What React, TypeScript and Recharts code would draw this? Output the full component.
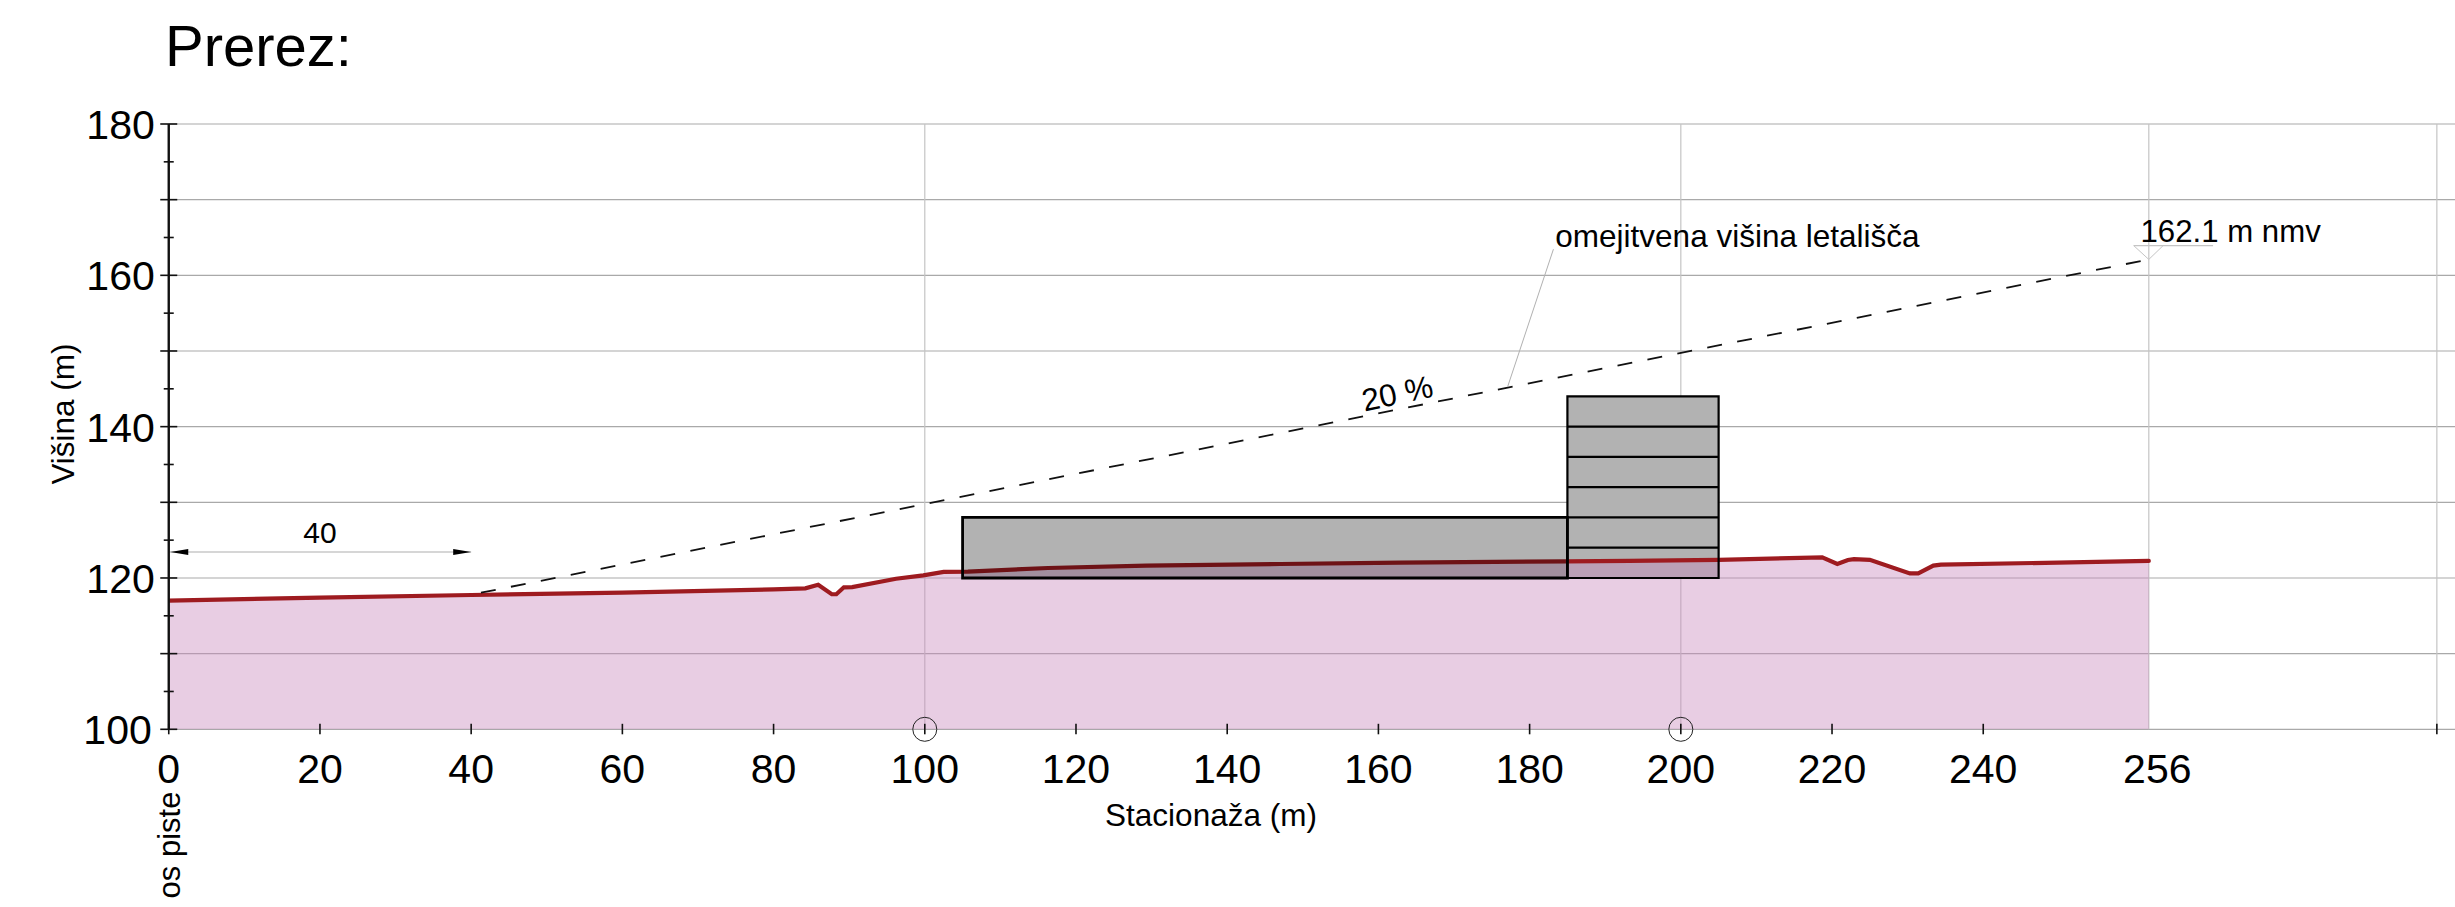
import { Area, CartesianGrid, ComposedChart, Line, ReferenceArea, ReferenceDot, ReferenceLine, XAxis, YAxis } from "recharts";

// terrain profile, station (m) on the drawing's scale -> height (m)
const terrainStations = [0, 20, 40, 60, 80, 84.2, 85.9, 87.7, 88.3, 89.3, 90.4, 96.2, 99.8, 102.5, 105.7, 116.3, 129.3, 147, 162.9, 184.9, 193.2, 205, 218.7, 220.7, 222.1, 222.9, 225, 230.3, 231.4, 233.4, 234.4, 261.9];
const terrainHeights = [117.0, 117.4, 117.75, 118.06, 118.5, 118.63, 119.1, 117.85, 117.85, 118.77, 118.8, 119.9, 120.35, 120.8, 120.84, 121.32, 121.63, 121.85, 122.02, 122.2, 122.25, 122.4, 122.73, 121.85, 122.38, 122.5, 122.4, 120.6, 120.6, 121.63, 121.76, 122.25];

const limitStations = [41.3, 261.9];
const limitHeights = [118.05, 162.1];

const xTicks = [0, 20, 40, 60, 80, 100, 120, 140, 160, 180, 200, 220, 240, 261.9, 300];
const yTicks = [100, 105, 110, 115, 120, 125, 130, 135, 140, 145, 150, 155, 160, 165, 170, 175, 180];
const hGrid = [100, 110, 120, 130, 140, 150, 160, 170, 180];
const vGrid = [100, 200, 261.9, 300];
const circledStations = [100, 200];
const floorHeights = [124, 128, 132, 136, 140];

const terrain = terrainStations.map((x, i) => ({ x, y: terrainHeights[i] }));
const limitLine = limitStations.map((x, i) => ({ x, y: limitHeights[i] }));

const FONT = "'Liberation Sans', Arial, sans-serif";

function XTick({ x, y, payload }: any) {
  const v = payload.value;
  if (v === 261.9) {
    return <text x={x + 8.5} y={y + 54} textAnchor="middle" fontSize={41} fontFamily={FONT} fill="#000">256</text>;
  }
  return (
    <g>
      <line x1={x} x2={x} y1={y - 5.5} y2={y + 5} stroke="#111" strokeWidth={1.6} />
      {v !== 300 && <text x={x} y={y + 54} textAnchor="middle" fontSize={41} fontFamily={FONT} fill="#000">{v}</text>}
    </g>
  );
}

function YTick({ x, y, payload }: any) {
  const v = payload.value;
  const half = v % 10 === 0 ? 8.5 : 5;
  return (
    <g>
      <line x1={x - half} x2={x + half} y1={y} y2={y} stroke="#111" strokeWidth={1.6} />
      {v % 20 === 0 && (
        <text x={x - (v === 100 ? 17 : 14)} y={y + 15} textAnchor="end" fontSize={41} fontFamily={FONT} fill="#000">{v}</text>
      )}
    </g>
  );
}

function note(text: string, fontSize: number, rotate = 0, anchor: "start" | "middle" = "start") {
  return (p: any) => (
    <text
      x={p.cx}
      y={p.cy}
      fontSize={fontSize}
      fontFamily={FONT}
      fill="#000"
      textAnchor={anchor}
      transform={rotate ? `rotate(${rotate} ${p.cx} ${p.cy})` : undefined}
    >
      {text}
    </text>
  );
}

function arrow(dir: 1 | -1) {
  return (p: any) => <path d={`M${p.cx},${p.cy} l${-dir * 18},-3 v6 z`} fill="#000" />;
}

export default function App() {
  return (
    <div style={{ position: "absolute", left: 0, top: 0, width: 2455, height: 907, overflow: "hidden", background: "#fff" }}>
      <ComposedChart width={2455} height={907} margin={{ top: 124, right: 0, bottom: 0, left: 0 }}>
        <CartesianGrid horizontalValues={hGrid} vertical={false} stroke="#a9a9a9" strokeWidth={1.2} />
        <CartesianGrid verticalValues={vGrid} horizontal={false} stroke="#c4c4c4" strokeWidth={1.2} />
        <XAxis
          type="number"
          dataKey="x"
          domain={[0, 302.4]}
          ticks={xTicks}
          interval={0}
          height={177.7}
          axisLine={false}
          tickLine={false}
          tickSize={0}
          tickMargin={0}
          tick={<XTick />}
          allowDataOverflow
        />
        <YAxis
          type="number"
          dataKey="y"
          domain={[100, 180]}
          ticks={yTicks}
          interval={0}
          width={168.75}
          axisLine={{ stroke: "#111", strokeWidth: 2.4 }}
          tickLine={false}
          tickSize={0}
          tickMargin={0}
          tick={<YTick />}
          allowDataOverflow
        />

        {/* tall block goes under the terrain fill */}
        <ReferenceArea x1={185} x2={205} y1={120} y2={144} fill="#b2b2b2" fillOpacity={1} stroke="none" />

        <Area
          data={terrain}
          dataKey="y"
          type="linear"
          fill="rgb(200,135,188)"
          fillOpacity={0.416}
          stroke="#9e1b20"
          strokeWidth={4.2}
          strokeLinecap="round"
          isAnimationActive={false}
          dot={false}
          activeDot={false}
        />
        <Line
          data={limitLine}
          dataKey="y"
          type="linear"
          stroke="#111"
          strokeWidth={1.8}
          strokeDasharray="15 15.5"
          dot={false}
          activeDot={false}
          isAnimationActive={false}
        />

        {/* low block darkens what lies under it */}
        <ReferenceArea x1={105} x2={185} y1={120} y2={128} fill="#000" fillOpacity={0.302} stroke="#000" strokeWidth={2.8} />
        <ReferenceArea x1={185} x2={205} y1={120} y2={144} fill="none" stroke="#000" strokeWidth={2.2} />
        {floorHeights.map((h) => (
          <ReferenceLine key={h} segment={[{ x: 185, y: h }, { x: 205, y: h }]} stroke="#000" strokeWidth={2.2} />
        ))}

        {/* dimension 40 */}
        <ReferenceLine segment={[{ x: 0, y: 123.44 }, { x: 40, y: 123.44 }]} stroke="#c8c8c8" strokeWidth={1.4} />
        <ReferenceDot x={0.2} y={123.44} r={0} shape={arrow(-1)} />
        <ReferenceDot x={40} y={123.44} r={0} shape={arrow(1)} />
        <ReferenceDot x={20} y={124.6} r={0} shape={note("40", 30, 0, "middle")} />

        {/* leader and level mark */}
        <ReferenceLine segment={[{ x: 177.1, y: 145.3 }, { x: 183.15, y: 163.45 }]} stroke="#b0b0b0" strokeWidth={1} />
        <ReferenceLine segment={[{ x: 259.9, y: 163.93 }, { x: 270.4, y: 163.93 }]} stroke="#c4c4c4" strokeWidth={1.3} />
        <ReferenceLine segment={[{ x: 259.9, y: 163.93 }, { x: 261.9, y: 162.1 }]} stroke="#c4c4c4" strokeWidth={1} />
        <ReferenceLine segment={[{ x: 263.8, y: 163.93 }, { x: 261.9, y: 162.1 }]} stroke="#c4c4c4" strokeWidth={1} />

        {circledStations.map((s) => (
          <ReferenceDot key={s} x={s} y={100} r={12} fill="none" stroke="#222" strokeWidth={1} />
        ))}

        <ReferenceDot x={183.4} y={163.8} r={0} shape={note("omejitvena višina letališča", 31.5)} />
        <ReferenceDot x={260.8} y={164.4} r={0} shape={note("162.1 m nmv", 31.2)} />
        <ReferenceDot x={162.8} y={143.0} r={0} shape={note("20 %", 31.5, -12, "middle")} />

        <text x={165} y={66} fontSize={58} fontFamily={FONT} fill="#000">Prerez:</text>
        <text x={1211} y={826} fontSize={31.5} textAnchor="middle" fontFamily={FONT} fill="#000">Stacionaža (m)</text>
        <text x={74} y={414} fontSize={31.5} textAnchor="middle" fontFamily={FONT} fill="#000" transform="rotate(-90 74 414)">Višina (m)</text>
        <text x={180} y={845} fontSize={31} textAnchor="middle" fontFamily={FONT} fill="#000" transform="rotate(-90 180 845)">os piste</text>
      </ComposedChart>
    </div>
  );
}
